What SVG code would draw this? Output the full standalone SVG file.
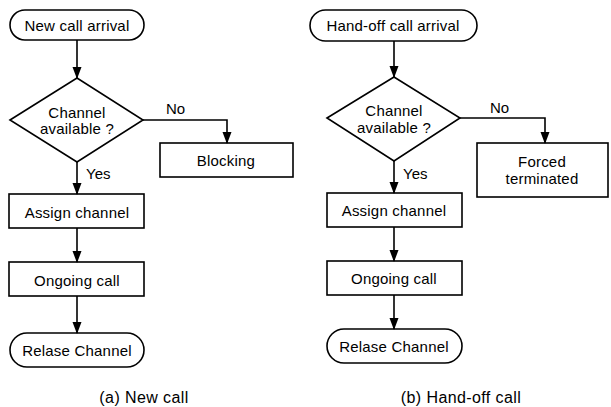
<svg xmlns="http://www.w3.org/2000/svg" width="611" height="407" viewBox="0 0 611 407">
  <defs>
    <marker id="head" markerUnits="userSpaceOnUse" markerWidth="12" markerHeight="10" refX="11" refY="5" orient="auto" viewBox="0 0 12 10">
      <path d="M0,0.5 L12,5 L0,9.5 Z" fill="#000"/>
    </marker>
  </defs>
  <style>
    .shape { fill: #fff; stroke: #000; stroke-width: 1.6; }
    .link { fill: none; stroke: #000; stroke-width: 1.6; marker-end: url(#head); }
    .lbl { font-family: "Liberation Sans", Arial, sans-serif; font-size: 15px; letter-spacing: 0.2px; fill: #000; text-anchor: middle; dominant-baseline: central; }
    .tag { font-family: "Liberation Sans", Arial, sans-serif; font-size: 15px; fill: #000; dominant-baseline: central; }
    .cap { font-family: "Liberation Sans", Arial, sans-serif; font-size: 16px; letter-spacing: 0.4px; fill: #000; text-anchor: middle; }
  </style>
  <rect width="611" height="407" fill="#fff"/>

  <!-- (a) New call -->
  <g id="a-start">
    <rect class="shape" x="10" y="10" width="134" height="30" rx="15" ry="15"/>
    <text class="lbl" x="77" y="25">New call arrival</text>
  </g>
  <g id="a-check">
    <polygon class="shape" points="10,120 77,78 143,120 77,162"/>
    <text class="lbl" x="77" y="112">Channel</text>
    <text class="lbl" x="77" y="128">available ?</text>
  </g>
  <g id="a-blocking">
    <rect class="shape" x="160" y="143" width="133" height="34"/>
    <text class="lbl" x="226" y="160">Blocking</text>
  </g>
  <g id="a-assign">
    <rect class="shape" x="9" y="194" width="135" height="34"/>
    <text class="lbl" x="77" y="212">Assign channel</text>
  </g>
  <g id="a-ongoing">
    <rect class="shape" x="9" y="262" width="135" height="34"/>
    <text class="lbl" x="77" y="280">Ongoing call</text>
  </g>
  <g id="a-release">
    <rect class="shape" x="10" y="333" width="134" height="34" rx="17" ry="17"/>
    <text class="lbl" x="77" y="350">Relase Channel</text>
  </g>
  <text class="cap" x="144" y="403">(a) New call</text>

  <!-- (b) Hand-off call -->
  <g id="b-start">
    <rect class="shape" x="310" y="10" width="167" height="31" rx="15.5" ry="15.5"/>
    <text class="lbl" x="393" y="25.5">Hand-off call arrival</text>
  </g>
  <g id="b-check">
    <polygon class="shape" points="327,118 394,77 460,118 394,161"/>
    <text class="lbl" x="394" y="110">Channel</text>
    <text class="lbl" x="394" y="127">available ?</text>
  </g>
  <g id="b-forced">
    <rect class="shape" x="477" y="143" width="131" height="54"/>
    <text class="lbl" x="542" y="161">Forced</text>
    <text class="lbl" x="542" y="178">terminated</text>
  </g>
  <g id="b-assign">
    <rect class="shape" x="327" y="193" width="135" height="34"/>
    <text class="lbl" x="394" y="210">Assign channel</text>
  </g>
  <g id="b-ongoing">
    <rect class="shape" x="327" y="261" width="135" height="34"/>
    <text class="lbl" x="394" y="278">Ongoing call</text>
  </g>
  <g id="b-release">
    <rect class="shape" x="327" y="329" width="135" height="34" rx="17" ry="17"/>
    <text class="lbl" x="394" y="346">Relase Channel</text>
  </g>
  <text class="cap" x="461" y="403">(b) Hand-off call</text>

  <g id="connectors">
    <line class="link" x1="77" y1="40" x2="77" y2="78"/>
    <polyline class="link" points="143,120 227,120 227,143"/>
    <line class="link" x1="77" y1="162" x2="77" y2="194"/>
    <line class="link" x1="77" y1="228" x2="77" y2="262"/>
    <line class="link" x1="77" y1="296" x2="77" y2="333"/>
    <text class="tag" x="166" y="108">No</text>
    <text class="tag" x="86" y="173">Yes</text>

    <line class="link" x1="394" y1="41" x2="394" y2="77"/>
    <polyline class="link" points="460,118 545,118 545,143"/>
    <line class="link" x1="394" y1="161" x2="394" y2="193"/>
    <line class="link" x1="394" y1="227" x2="394" y2="261"/>
    <line class="link" x1="394" y1="295" x2="394" y2="329"/>
    <text class="tag" x="490" y="107">No</text>
    <text class="tag" x="403" y="173">Yes</text>
  </g>
</svg>
